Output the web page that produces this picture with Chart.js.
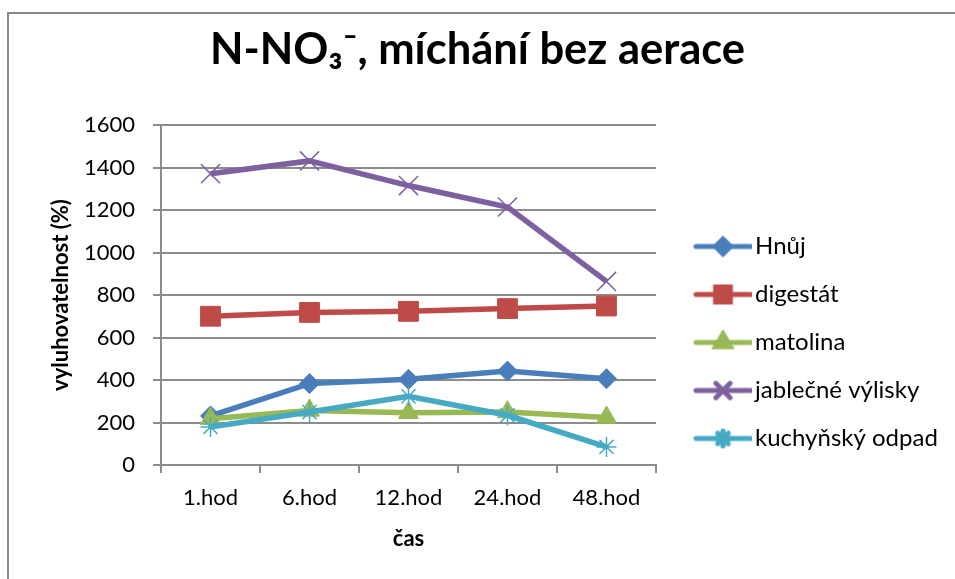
<!DOCTYPE html>
<html><head><meta charset="utf-8">
<script src="https://cdn.jsdelivr.net/npm/chart.js@4.4.1/dist/chart.umd.min.js"></script>
<style>
html,body{margin:0;padding:0;background:#fff;overflow:hidden}
#wrap{position:relative;width:955px;height:579px}
#frame{position:absolute;left:7px;top:12px;width:1000px;height:700px;border:2px solid #878787;box-sizing:border-box;pointer-events:none}
canvas{position:absolute;left:0;top:0}
</style></head><body>
<div id="wrap"><div id="frame"></div><canvas id="c" width="955" height="579"></canvas></div>
<script>
const categories = ['1.hod', '6.hod', '12.hod', '24.hod', '48.hod'];
const seriesNames = ['Hnůj', 'digestát', 'matolina', 'jablečné výlisky', 'kuchyňský odpad'];
const hnuj = [231, 383, 403, 442, 406];
const digestat = [700, 718, 723, 736, 748];
const matolina = [218, 257, 246, 249, 224];
const jablecne = [1371, 1431, 1315, 1214, 864];
const kuchynsky = [179, 249, 323, 234, 85];
const yTicks = [0, 200, 400, 600, 800, 1000, 1200, 1400, 1600];
const titleText = 'N-NO₃⁻, míchání bez aerace';
const yTitle = 'vyluhovatelnost (%)';
const xTitle = 'čas';

const seriesValues = [hnuj, digestat, matolina, jablecne, kuchynsky];
const colors = ['#4A7EBB', '#BE4B48', '#98B954', '#7D60A0', '#46AAC5'];
const styles = ['rectRot', 'rect', 'triangle', 'crossRot', 'star'];
const radii = [10, 14, 11.5, 13.5, 10];
const FONT = 'Lato, "Open Sans", "DejaVu Sans", sans-serif';
const GRID = '#8c8c8c';

const LEGEND_W = 299;
const LEGEND_DY = 64;
const PW = 63;
const Y_TITLE_X = 61;
function makeIcon(i) {
  const cv = document.createElement('canvas');
  cv.width = 80; cv.height = 26;
  const ctx = cv.getContext('2d');
  const x0 = 24.5, x1 = 78.5, cy = 13;
  ctx.strokeStyle = colors[i];
  ctx.lineWidth = 5;
  ctx.lineCap = 'round';
  ctx.beginPath(); ctx.moveTo(x0, cy); ctx.lineTo(x1, cy); ctx.stroke();
  ctx.fillStyle = colors[i];
  ctx.strokeStyle = colors[i];
  Chart.helpers.drawPoint(ctx, {pointStyle: styles[i], radius: radii[i] * 0.75, rotation: 0, borderWidth: 1.5}, (x0 + x1) / 2, cy);
  return cv;
}
const icons = seriesNames.map((_, i) => makeIcon(i));

const legendFix = {
  id: 'legendFix',
  beforeUpdate(chart) {
    const lg = chart.legend;
    if (!lg || lg._patched) return;
    lg._patched = true;
    const of = lg.fit;
    lg.fit = function () { of.call(this); this.width = LEGEND_W; };
    const od = lg.draw;
    lg.draw = function () { const c = this.ctx; c.save(); c.translate(0, LEGEND_DY); od.call(this); c.restore(); };
  }
};

const yAxisTitle = {
  id: 'yAxisTitle',
  afterDraw(chart) {
    const ctx = chart.ctx, ca = chart.chartArea;
    ctx.save();
    ctx.translate(Y_TITLE_X, (ca.top + ca.bottom) / 2);
    ctx.rotate(-Math.PI / 2);
    ctx.font = 'bold 22px ' + FONT;
    ctx.fillStyle = '#000';
    ctx.textAlign = 'center';
    ctx.textBaseline = 'middle';
    ctx.fillText(yTitle, 0, 0);
    ctx.restore();
  }
};

const datasets = seriesNames.map((name, i) => ({
  label: name,
  data: seriesValues[i],
  order: seriesNames.length - i,
  borderColor: colors[i],
  backgroundColor: colors[i],
  borderWidth: 5.5,
  pointStyle: styles[i],
  pointRadius: radii[i],
  pointHoverRadius: radii[i],
  pointBorderWidth: (styles[i] === 'crossRot' || styles[i] === 'star') ? 1.5 : 1,
  pointBorderColor: colors[i],
  pointBackgroundColor: colors[i],
  tension: 0,
  clip: false
}));

new Chart(document.getElementById('c'), {
  type: 'line',
  data: { labels: categories, datasets },
  plugins: [legendFix, yAxisTitle],
  options: {
    responsive: false,
    animation: false,
    devicePixelRatio: 1,
    layout: { padding: { left: 0, right: 0, top: 0, bottom: 22 } },
    plugins: {
      title: {
        display: true, text: titleText, color: '#000',
        font: { family: FONT, size: 43.5, weight: 'bold', lineHeight: 1.2 },
        padding: { top: 24, bottom: 48.8 }
      },
      legend: {
        position: 'right', align: 'center',
        labels: {
          usePointStyle: true, pointStyleWidth: PW, padding: 24, color: '#000',
          font: { family: FONT, size: 24 },
          generateLabels: (chart) => chart.data.datasets.map((ds, i) => ({
            text: ds.label, pointStyle: icons[i], fillStyle: ds.backgroundColor,
            strokeStyle: ds.borderColor, lineWidth: 0, hidden: false, datasetIndex: i
          }))
        }
      },
      tooltip: { enabled: false }
    },
    scales: {
      x: {
        offset: true,
        grid: { offset: true, drawOnChartArea: false, tickLength: 8, color: GRID, lineWidth: 2 },
        border: { color: GRID, width: 2 },
        ticks: { color: '#000', font: { family: FONT, size: 22 }, padding: 12, maxRotation: 0 },
        title: { display: true, text: xTitle, color: '#000', font: { family: FONT, size: 22, weight: 'bold' }, padding: { top: 0, bottom: 5 } },
        afterFit: (s) => { s.height = 92; }
      },
      y: {
        min: 0, max: 1600,
        afterBuildTicks: (s) => { s.ticks = yTicks.map(v => ({ value: v })); },
        grid: { color: GRID, lineWidth: 2, tickLength: 8 },
        border: { color: GRID, width: 2 },
        ticks: { color: '#000', font: { family: FONT, size: 22 }, padding: 18, callback: (v) => String(v) },
        title: { display: false, text: yTitle },
        afterFit: (s) => { s.width = 161; }
      }
    }
  }
});
</script>
</body></html>
